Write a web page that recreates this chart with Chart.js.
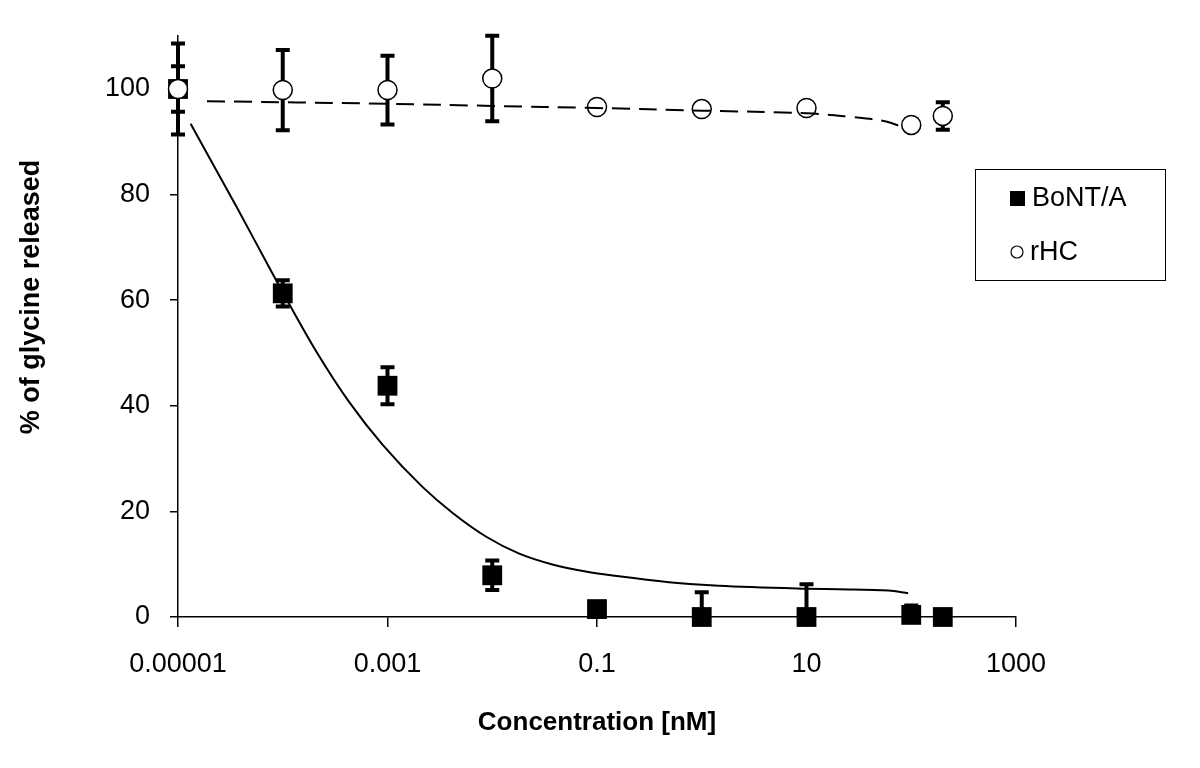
<!DOCTYPE html>
<html>
<head>
<meta charset="utf-8">
<script src="https://cdn.jsdelivr.net/npm/chart.js@4/dist/chart.umd.min.js"></script>
<style>
  body { margin: 0; background: #fff; }
  canvas { display: block; }
</style>
</head>
<body>
<canvas id="glycineChart" width="1200" height="768"></canvas>
<script>
// concentrations in nM (log axis)
var concentrations = [0.00001, 0.0001, 0.001, 0.01, 0.1, 1, 10, 100, 200];

// measured points, % of glycine released, with error bar sizes
var bontValues = [100, 61.3, 43.8, 7.9, 1.5, 0, 0, 0.4, 0];
var bontErrors = [4.3, 2.5, 3.5, 2.8, 0.8, 4.7, 6.2, 1.8, 0];
var rhcValues = [100, 99.8, 99.8, 102, 96.6, 96.2, 96.4, 93.2, 94.9];
var rhcErrors = [8.6, 7.6, 6.5, 8.1, 0.8, 0.8, 0.8, 1, 2.6];

// fitted curves
var bontFitX = [1.32e-5, 3.62e-5, 7.52e-5, 1.0e-4, 2.09e-4, 4.35e-4, 9.0e-4, 2.17e-3, 4.19e-3, 8.77e-3, 0.0181, 0.0375, 0.078, 0.162, 0.485, 1.45, 10, 20.2, 60.4, 93.5];
var bontFitY = [93.4, 77.7, 66.0, 61.5, 50.3, 40.6, 32.6, 24.6, 19.7, 15.2, 12.0, 9.95, 8.6, 7.7, 6.6, 5.9, 5.35, 5.25, 5.0, 4.5];
var rhcFitX = [1.89e-5, 0.001, 0.01, 0.1, 1, 10, 26.9, 56.2, 75.2];
var rhcFitY = [97.7, 97.2, 96.8, 96.4, 95.9, 95.4, 94.7, 93.9, 93.1];

// axis ticks
var xTickValues = [0.00001, 0.001, 0.1, 10, 1000];
var xTickLabels = ['0.00001', '0.001', '0.1', '10', '1000'];
var yTickValues = [0, 20, 40, 60, 80, 100];
var yTitle = '% of glycine released';

var fontFamily = '"Liberation Sans", Arial, sans-serif';

function toPoints(xs, ys) {
    return xs.map(function(x, i) { return { x: x, y: ys[i] }; });
}

// vertical error bars with caps, drawn under the markers
var errorBars = {
    id: 'errorBars',
    beforeDatasetsDraw: function(chart) {
        var ctx = chart.ctx;
        var xs = chart.scales.x;
        var ys = chart.scales.y;
        var area = chart.chartArea;
        var sets = [[bontValues, bontErrors], [rhcValues, rhcErrors]];

        ctx.save();
        ctx.beginPath();
        ctx.rect(area.left - 30, 0, area.right - area.left + 60, area.bottom);
        ctx.clip();
        ctx.strokeStyle = '#000';
        ctx.lineWidth = 4;
        sets.forEach(function(set) {
            set[0].forEach(function(v, i) {
                var e = set[1][i];
                if (!e) return;
                var x = xs.getPixelForValue(concentrations[i]);
                var yTop = ys.getPixelForValue(v + e);
                var yBot = ys.getPixelForValue(v - e);
                ctx.beginPath();
                ctx.moveTo(x, yTop);
                ctx.lineTo(x, yBot);
                ctx.moveTo(x - 7, yTop);
                ctx.lineTo(x + 7, yTop);
                ctx.moveTo(x - 7, yBot);
                ctx.lineTo(x + 7, yBot);
                ctx.stroke();
            });
        });
        ctx.restore();
    }
};

// boxed legend at the right and the y title, like the original
var boxLegend = {
    id: 'boxLegend',
    afterDraw: function(chart) {
        var ctx = chart.ctx;
        var sets = chart.data.datasets;
        ctx.save();
        ctx.fillStyle = '#fff';
        ctx.fillRect(975, 169, 190, 111);
        ctx.strokeStyle = '#000';
        ctx.lineWidth = 1;
        ctx.strokeRect(975.5, 169.5, 190, 111);

        ctx.fillStyle = '#000';
        ctx.fillRect(1010, 191, 15, 15);
        ctx.beginPath();
        ctx.arc(1017, 252, 6, 0, Math.PI * 2);
        ctx.lineWidth = 1.2;
        ctx.stroke();

        ctx.font = '27px ' + fontFamily;
        ctx.textBaseline = 'middle';
        ctx.textAlign = 'left';
        ctx.fillText(sets[0].label, 1032, 199);
        ctx.fillText(sets[1].label, 1030, 253);

        // y axis title sits above the middle of the axis in the original
        ctx.translate(32, 297);
        ctx.rotate(-Math.PI / 2);
        ctx.textAlign = 'center';
        ctx.font = 'bold 27px ' + fontFamily;
        ctx.fillText(yTitle, 0, 0);
        ctx.restore();
    }
};

var ctx = document.getElementById('glycineChart').getContext('2d');
var glycineChart = new Chart(ctx, {
    type: 'scatter',
    data: {
        datasets: [{
            label: 'BoNT/A',
            data: toPoints(concentrations, bontValues),
            pointStyle: 'rect',
            pointRadius: 14,
            backgroundColor: '#000',
            borderColor: '#000',
            borderWidth: 0,
            clip: false,
            order: 2
        }, {
            label: 'rHC',
            data: toPoints(concentrations, rhcValues),
            pointStyle: 'circle',
            pointRadius: 9.5,
            backgroundColor: '#fff',
            borderColor: '#000',
            borderWidth: 1.5,
            clip: false,
            order: 1
        }, {
            label: 'BoNT/A fit',
            data: toPoints(bontFitX, bontFitY),
            showLine: true,
            pointRadius: 0,
            borderColor: '#000',
            borderWidth: 2,
            cubicInterpolationMode: 'monotone',
            clip: false,
            order: 0
        }, {
            label: 'rHC fit',
            data: toPoints(rhcFitX, rhcFitY),
            showLine: true,
            pointRadius: 0,
            borderColor: '#000',
            borderWidth: 2,
            borderDash: [18, 9],
            tension: 0.4,
            clip: false,
            order: 0
        }]
    },
    options: {
        responsive: false,
        animation: false,
        events: [],
        layout: { padding: { left: 0, top: 34, right: 184, bottom: 0 } },
        plugins: {
            legend: { display: false },
            tooltip: { enabled: false }
        },
        scales: {
            x: {
                type: 'logarithmic',
                min: 0.00001,
                max: 1000,
                afterBuildTicks: function(scale) {
                    scale.ticks = xTickValues.map(function(v) { return { value: v }; });
                },
                afterFit: function(scale) { scale.height = 151; },
                ticks: {
                    autoSkip: false,
                    maxRotation: 0,
                    padding: 21,
                    color: '#000',
                    font: { family: fontFamily, size: 27 },
                    callback: function(value, index) { return xTickLabels[index]; }
                },
                grid: { drawOnChartArea: false, drawTicks: true, tickLength: 10, color: '#000', lineWidth: 1.5 },
                border: { display: true, color: '#000', width: 1.5 },
                title: {
                    display: true,
                    text: 'Concentration [nM]',
                    color: '#000',
                    font: { family: fontFamily, size: 26, weight: 'bold' },
                    padding: { top: 0, bottom: 30 }
                }
            },
            y: {
                min: 0,
                max: 110,
                afterBuildTicks: function(scale) {
                    scale.ticks = yTickValues.map(function(v) { return { value: v }; });
                },
                afterFit: function(scale) { scale.width = 178; },
                ticks: {
                    padding: 20,
                    color: '#000',
                    font: { family: fontFamily, size: 27 }
                },
                grid: { drawOnChartArea: false, drawTicks: true, tickLength: 8, color: '#000', lineWidth: 1.5 },
                border: { display: true, color: '#000', width: 1.5 }
            }
        }
    },
    plugins: [errorBars, boxLegend]
});
</script>
</body>
</html>
